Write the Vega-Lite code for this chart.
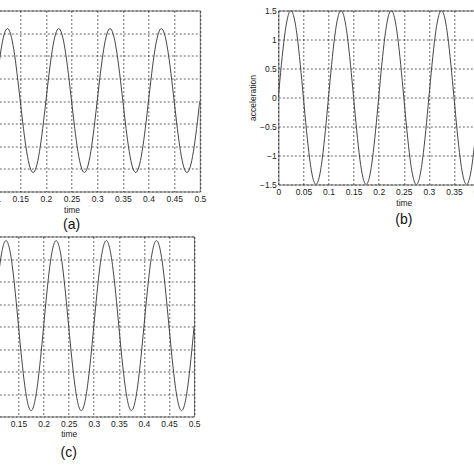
{
  "$schema": "https://vega.github.io/schema/vega-lite/v6.json",
  "padding": {"left": -59.7, "top": 5.5, "right": -57, "bottom": 0},
  "background": "white",
  "config": {
    "font": "Liberation Sans",
    "view": {"stroke": "#777", "strokeWidth": 1},
    "axis": {
      "labelFont": "Liberation Sans", "labelFontSize": 8.5, "labelColor": "#222",
      "titleFont": "Liberation Sans", "titleFontSize": 8.5, "titleFontWeight": "normal", "titleColor": "#222",
      "ticks": false, "domain": false, "grid": true,
      "gridColor": "#000", "gridDash": [2, 2], "gridOpacity": 0.6,
      "labelPadding": 3, "labelFlush": false, "labelOverlap": false, "format": "~g"
    },
    "title": {"font": "Liberation Sans", "fontSize": 14, "fontWeight": "normal", "color": "#111", "orient": "bottom", "frame": "group", "offset": 6}
  },
  "datasets": {
    "a": [
      {"t": 0, "v": 0}, {"t": 0.0125, "v": 1.13}, {"t": 0.025, "v": 1.6}, {"t": 0.0375, "v": 1.13},
      {"t": 0.05, "v": 0}, {"t": 0.0625, "v": -1.12}, {"t": 0.075, "v": -1.58}, {"t": 0.0875, "v": -1.12},
      {"t": 0.1, "v": 0}, {"t": 0.1125, "v": 1.13}, {"t": 0.125, "v": 1.6}, {"t": 0.1375, "v": 1.13},
      {"t": 0.15, "v": 0}, {"t": 0.1625, "v": -1.12}, {"t": 0.175, "v": -1.58}, {"t": 0.1875, "v": -1.12},
      {"t": 0.2, "v": 0}, {"t": 0.2125, "v": 1.13}, {"t": 0.225, "v": 1.6}, {"t": 0.2375, "v": 1.13},
      {"t": 0.25, "v": 0}, {"t": 0.2625, "v": -1.12}, {"t": 0.275, "v": -1.58}, {"t": 0.2875, "v": -1.12},
      {"t": 0.3, "v": 0}, {"t": 0.3125, "v": 1.13}, {"t": 0.325, "v": 1.6}, {"t": 0.3375, "v": 1.13},
      {"t": 0.35, "v": 0}, {"t": 0.3625, "v": -1.12}, {"t": 0.375, "v": -1.58}, {"t": 0.3875, "v": -1.12},
      {"t": 0.4, "v": 0}, {"t": 0.4125, "v": 1.13}, {"t": 0.425, "v": 1.6}, {"t": 0.4375, "v": 1.13},
      {"t": 0.45, "v": 0}, {"t": 0.4625, "v": -1.12}, {"t": 0.475, "v": -1.58}, {"t": 0.4875, "v": -1.12},
      {"t": 0.5, "v": 0}
    ],
    "b": [
      {"t": 0, "v": 0}, {"t": 0.0125, "v": 1.06}, {"t": 0.025, "v": 1.5}, {"t": 0.0375, "v": 1.06},
      {"t": 0.05, "v": 0}, {"t": 0.0625, "v": -1.06}, {"t": 0.075, "v": -1.5}, {"t": 0.0875, "v": -1.06},
      {"t": 0.1, "v": 0}, {"t": 0.1125, "v": 1.06}, {"t": 0.125, "v": 1.5}, {"t": 0.1375, "v": 1.06},
      {"t": 0.15, "v": 0}, {"t": 0.1625, "v": -1.06}, {"t": 0.175, "v": -1.5}, {"t": 0.1875, "v": -1.06},
      {"t": 0.2, "v": 0}, {"t": 0.2125, "v": 1.06}, {"t": 0.225, "v": 1.5}, {"t": 0.2375, "v": 1.06},
      {"t": 0.25, "v": 0}, {"t": 0.2625, "v": -1.06}, {"t": 0.275, "v": -1.5}, {"t": 0.2875, "v": -1.06},
      {"t": 0.3, "v": 0}, {"t": 0.3125, "v": 1.06}, {"t": 0.325, "v": 1.5}, {"t": 0.3375, "v": 1.06},
      {"t": 0.35, "v": 0}, {"t": 0.3625, "v": -1.06}, {"t": 0.375, "v": -1.5}, {"t": 0.3875, "v": -1.06},
      {"t": 0.4, "v": 0}, {"t": 0.4125, "v": 1.06}, {"t": 0.425, "v": 1.5}, {"t": 0.4375, "v": 1.06},
      {"t": 0.45, "v": 0}, {"t": 0.4625, "v": -1.06}, {"t": 0.475, "v": -1.5}, {"t": 0.4875, "v": -1.06},
      {"t": 0.5, "v": 0}
    ],
    "c": [
      {"t": 0, "v": 0}, {"t": 0.0125, "v": 1.35}, {"t": 0.025, "v": 1.91}, {"t": 0.0375, "v": 1.35},
      {"t": 0.05, "v": 0}, {"t": 0.0625, "v": -1.32}, {"t": 0.075, "v": -1.87}, {"t": 0.0875, "v": -1.32},
      {"t": 0.1, "v": 0}, {"t": 0.1125, "v": 1.35}, {"t": 0.125, "v": 1.91}, {"t": 0.1375, "v": 1.35},
      {"t": 0.15, "v": 0}, {"t": 0.1625, "v": -1.32}, {"t": 0.175, "v": -1.87}, {"t": 0.1875, "v": -1.32},
      {"t": 0.2, "v": 0}, {"t": 0.2125, "v": 1.35}, {"t": 0.225, "v": 1.91}, {"t": 0.2375, "v": 1.35},
      {"t": 0.25, "v": 0}, {"t": 0.2625, "v": -1.32}, {"t": 0.275, "v": -1.87}, {"t": 0.2875, "v": -1.32},
      {"t": 0.3, "v": 0}, {"t": 0.3125, "v": 1.35}, {"t": 0.325, "v": 1.91}, {"t": 0.3375, "v": 1.35},
      {"t": 0.35, "v": 0}, {"t": 0.3625, "v": -1.32}, {"t": 0.375, "v": -1.87}, {"t": 0.3875, "v": -1.32},
      {"t": 0.4, "v": 0}, {"t": 0.4125, "v": 1.35}, {"t": 0.425, "v": 1.91}, {"t": 0.4375, "v": 1.35},
      {"t": 0.45, "v": 0}, {"t": 0.4625, "v": -1.32}, {"t": 0.475, "v": -1.87}, {"t": 0.4875, "v": -1.32},
      {"t": 0.5, "v": 0}
    ]
  },
  "spacing": 3,
  "vconcat": [
    {
      "spacing": 41,
      "hconcat": [
        {
          "data": {"name": "a"},
          "width": 256.5,
          "height": 181,
          "title": {"text": "(a)", "offset": 4.5},
          "mark": {"type": "line", "interpolate": "natural", "clip": true, "color": "#444", "strokeWidth": 1},
          "encoding": {
            "x": {
              "field": "t", "type": "quantitative",
              "scale": {"domain": [0, 0.5], "nice": false},
              "axis": {"values": [0, 0.05, 0.1, 0.15, 0.2, 0.25, 0.3, 0.35, 0.4, 0.45, 0.5], "title": "time", "titlePadding": 2}
            },
            "y": {
              "field": "v", "type": "quantitative",
              "scale": {"domain": [-2, 2], "nice": false},
              "axis": {"values": [-2, -1.5, -1, -0.5, 0, 0.5, 1, 1.5, 2], "labels": false, "title": null}
            }
          }
        },
        {
          "data": {"name": "b"},
          "width": 251,
          "height": 174,
          "title": {"text": "(b)", "offset": 6.5},
          "mark": {"type": "line", "interpolate": "natural", "clip": true, "color": "#444", "strokeWidth": 1},
          "encoding": {
            "x": {
              "field": "t", "type": "quantitative",
              "scale": {"domain": [0, 0.5], "nice": false},
              "axis": {"values": [0, 0.05, 0.1, 0.15, 0.2, 0.25, 0.3, 0.35, 0.4, 0.45, 0.5], "title": "time", "titlePadding": 2}
            },
            "y": {
              "field": "v", "type": "quantitative",
              "scale": {"domain": [-1.5, 1.5], "nice": false},
              "axis": {"values": [-1.5, -1, -0.5, 0, 0.5, 1, 1.5], "title": "acceleration", "titlePadding": 2, "labelPadding": 2}
            }
          }
        }
      ]
    },
    {
      "data": {"name": "c"},
      "width": 250.8,
      "height": 180,
      "title": {"text": "(c)", "offset": 8},
      "mark": {"type": "line", "interpolate": "natural", "clip": true, "color": "#444", "strokeWidth": 1},
      "encoding": {
        "x": {
          "field": "t", "type": "quantitative",
          "scale": {"domain": [0, 0.5], "nice": false},
          "axis": {"values": [0, 0.05, 0.1, 0.15, 0.2, 0.25, 0.3, 0.35, 0.4, 0.45, 0.5], "title": "time", "titlePadding": 2}
        },
        "y": {
          "field": "v", "type": "quantitative",
          "scale": {"domain": [-2, 2], "nice": false},
          "axis": {"values": [-2, -1.5, -1, -0.5, 0, 0.5, 1, 1.5, 2], "labels": false, "title": null}
        }
      }
    }
  ]
}
